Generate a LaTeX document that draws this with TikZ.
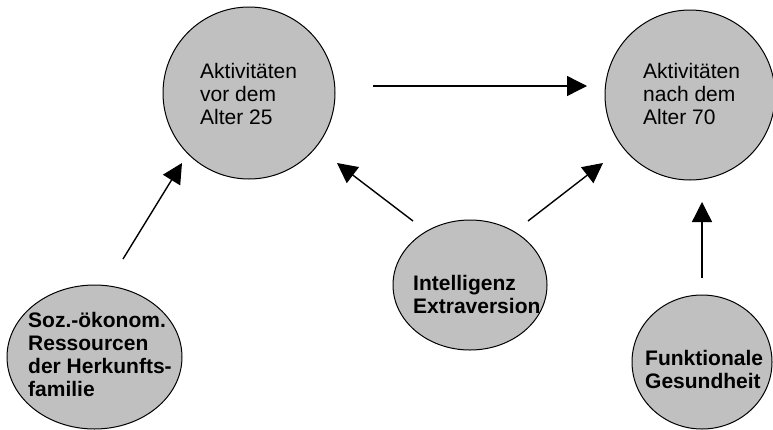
\documentclass[tikz,border=0pt]{standalone}
\usepackage{fontspec}
\setmainfont{Liberation Sans}
\usetikzlibrary{arrows.meta,shapes.geometric}
\definecolor{bubblegray}{HTML}{C0C0C0}
\begin{document}
\begin{tikzpicture}[x=1pt,y=-1pt,
  bubble/.style={draw=black, line width=1pt, fill=bubblegray, ellipse, inner sep=0pt},
  lbl/.style={anchor=north west, inner sep=0pt, align=left, font=\fontsize{21}{23}\selectfont},
  blbl/.style={lbl, font=\fontsize{21}{23}\selectfont\bfseries},
  conn/.style={line width=1.4pt, -{Triangle[length=20pt,width=20pt]}}]
\useasboundingbox (0,0) rectangle (773,429);
\node[bubble, minimum width=172pt, minimum height=172pt] (vor) at (249,93) {};
\node[bubble, minimum width=170pt, minimum height=170pt] (nach) at (690,95) {};
\node[bubble, minimum width=175pt, minimum height=144pt] (soz) at (94.5,357) {};
\node[bubble, minimum width=154pt, minimum height=130pt] (intel) at (470,285) {};
\node[bubble, minimum width=140pt, minimum height=134pt] (funk) at (702,362) {};
\node[lbl] (vorT) at (200,62.7) {Aktivitäten\\vor dem\\Alter 25};
\node[lbl] (nachT) at (643,63) {Aktivitäten\\nach dem\\Alter 70};
\node[blbl] (sozT) at (28,312.5) {Soz.-ökonom.\\Ressourcen\\der Herkunfts-\\familie};
\node[blbl] (intelT) at (413,274.7) {Intelligenz\\Extraversion};
\node[blbl] (funkT) at (645,349.7) {Funktionale\\Gesundheit};
\coordinate (h1) at (373,86);
\coordinate (h2) at (587,86);
\coordinate (s1) at (123,259);
\coordinate (s2) at (182,163);
\coordinate (i1) at (413,221);
\coordinate (i2) at (337,163);
\coordinate (i3) at (528,221);
\coordinate (i4) at (603,163);
\coordinate (f1) at (702,278);
\coordinate (f2) at (702,202);
\draw[conn] (h1) -- (h2);
\draw[conn] (s1) -- (s2);
\draw[conn] (i1) -- (i2);
\draw[conn] (i3) -- (i4);
\draw[conn] (f1) -- (f2);
\end{tikzpicture}
\end{document}
